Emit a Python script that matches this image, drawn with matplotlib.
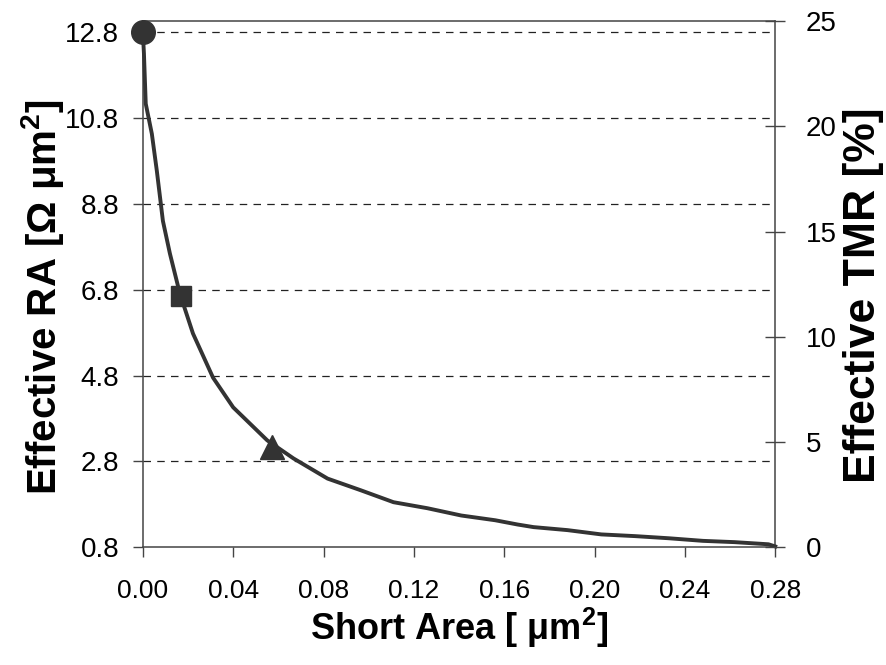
import numpy as np
import matplotlib
matplotlib.use('Agg')
import matplotlib.pyplot as plt

plt.rcParams['font.family'] = ['Liberation Sans', 'DejaVu Sans']
plt.rcParams['mathtext.default'] = 'regular'

# curve: short area [um^2] vs effective RA [Ohm um^2]
short_area = [0.0, 0.0005, 0.0013, 0.0040, 0.0062, 0.0089, 0.0120, 0.0164,
              0.0222, 0.0311, 0.0400, 0.0551, 0.0667, 0.0818, 0.0964,
              0.111, 0.126, 0.141, 0.156, 0.166, 0.173, 0.188, 0.203,
              0.218, 0.233, 0.248, 0.262, 0.277, 0.280]
eff_ra = [12.8, 12.3, 11.13, 10.43, 9.57, 8.40, 7.64, 6.71,
          5.78, 4.75, 4.06, 3.29, 2.87, 2.40, 2.13,
          1.85, 1.71, 1.54, 1.43, 1.33, 1.27, 1.20, 1.10,
          1.06, 1.01, 0.95, 0.92, 0.87, 0.82]

# highlighted points
circle_pt = (0.0, 12.8)
square_pt = (0.017, 6.65)
triangle_pt = (0.0573, 3.13)

ra_ticks = [0.8, 2.8, 4.8, 6.8, 8.8, 10.8, 12.8]
x_ticks = [0.00, 0.04, 0.08, 0.12, 0.16, 0.20, 0.24, 0.28]
tmr_ticks = [0, 5, 10, 15, 20, 25]

col = '#333333'

fig = plt.figure(figsize=(8.87, 6.65), dpi=100)
ax = fig.add_axes([0.161, 0.177, 0.713, 0.791])

ax.plot(short_area, eff_ra, color=col, lw=2.8, zorder=3, clip_on=False)
ax.plot(*circle_pt, marker='o', ms=17, color=col, zorder=4, clip_on=False)
ax.plot(*square_pt, marker='s', ms=15, color=col, zorder=4, clip_on=False)
ax.plot(*triangle_pt, marker='^', ms=17, color=col, zorder=4, clip_on=False)

ax.set_xlim(0, 0.28)
ax.set_ylim(0.8, 13.05)
ax.set_xticks(x_ticks)
ax.set_xticklabels(['%.2f' % v for v in x_ticks])
ax.set_yticks(ra_ticks)
ax.set_yticklabels(['%.1f' % v for v in ra_ticks])
ax.tick_params(axis='both', direction='out', length=7,
               width=1, color='#444444')
ax.tick_params(axis='x', pad=16, labelsize=19)
ax.tick_params(axis='y', pad=10, labelsize=20)

for v in ra_ticks[1:]:
    ax.axhline(v, color='#222222', lw=0.9, ls=(0, (6, 5)), zorder=1)

for s in ax.spines.values():
    s.set_linewidth(1.1)
    s.set_color('#444444')

ax.set_xlabel('Short Area [ μm$^2$]', fontsize=26, fontweight='bold',
              labelpad=2)
ax.set_ylabel('Effective RA [Ω μm$^2$]', fontsize=29, fontweight='bold')
ax.yaxis.set_label_coords(-0.121, 0.475)

ax2 = ax.twinx()
ax2.set_ylim(0, 25)
ax2.set_yticks(tmr_ticks)
ax2.tick_params(axis='y', labelsize=20, direction='inout', length=14,
                width=1, color='#444444', pad=15)
for s in ax2.spines.values():
    s.set_visible(False)
ax2.set_ylabel('Effective TMR [%]', fontsize=32, fontweight='bold')
ax2.yaxis.set_label_coords(1.107, 0.48)

fig.savefig('out.png', dpi=100)
